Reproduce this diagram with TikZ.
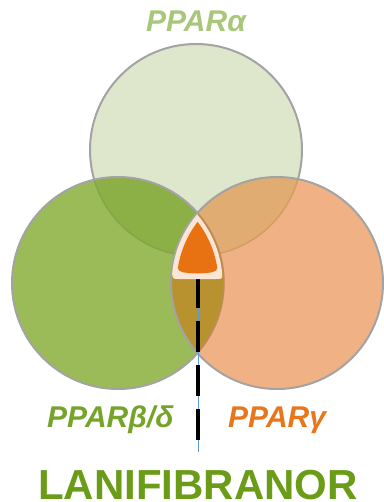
\documentclass[tikz,border=0pt]{standalone}
\usepackage{fontspec}
\setmainfont{Liberation Sans}
\definecolor{topcol}{HTML}{DEE7CB}
\definecolor{leftcol}{HTML}{9BBB59}
\definecolor{rightcol}{HTML}{F0B285}
\definecolor{tlcol}{HTML}{8DB046}
\definecolor{trcol}{HTML}{E0AC72}
\definecolor{lrcol}{HTML}{B8922F}
\definecolor{bordercol}{HTML}{A3A3A3}
\definecolor{faintgreen}{HTML}{84A548}
\definecolor{faintorange}{HTML}{D49C66}
\definecolor{faintbrown}{HTML}{C08A5C}
\definecolor{creamcol}{HTML}{FBE5D6}
\definecolor{orangecol}{HTML}{E87212}
\definecolor{alphacol}{HTML}{A9C77A}
\definecolor{betacol}{HTML}{76A42A}
\definecolor{gammacol}{HTML}{E8761B}
\definecolor{namecol}{HTML}{6A9C17}
\definecolor{bluecol}{HTML}{5B9BD5}
\tikzset{
  ring/.style={draw=bordercol, line width=2pt},
  faint/.style={line width=1.5pt},
  label/.style={font=\bfseries\itshape\fontsize{30}{33}\selectfont, inner sep=0pt, anchor=base west},
}
\begin{document}
\begin{tikzpicture}[x=1pt,y=-1pt]
\useasboundingbox (0,0) rectangle (383,502);
\coordinate (T) at (196,150);
\coordinate (L) at (118,283);
\coordinate (R) at (277,283);
% top circle
\fill[topcol] (T) circle (106);
\draw[ring] (T) circle (106);
% left circle
\fill[leftcol] (L) circle (106);
\begin{scope}
  \clip (T) circle (106);
  \fill[tlcol] (L) circle (106);
\end{scope}
\begin{scope}
  \clip (L) circle (106);
  \draw[faint, draw=faintgreen] (T) circle (106);
\end{scope}
\draw[ring] (L) circle (106);
% right circle
\fill[rightcol] (R) circle (106);
\begin{scope}
  \clip (T) circle (106);
  \fill[trcol] (R) circle (106);
\end{scope}
\begin{scope}
  \clip (L) circle (106);
  \fill[lrcol] (R) circle (106);
\end{scope}
\begin{scope}
  \clip (R) circle (106);
  \draw[faint, draw=faintorange] (T) circle (106);
  \draw[faint, draw=faintbrown] (L) circle (106);
\end{scope}
\draw[ring] (R) circle (106);
% lines
\coordinate (linetop) at (198,277);
\coordinate (lineend) at (198,452);
\coordinate (dashend) at (198,442);
\draw[bluecol, line width=0.8pt] (linetop) -- (lineend);
\draw[black, line width=4pt, dash pattern=on 31pt off 13pt] (linetop) -- (dashend);
% central shape
\fill[creamcol] (197.5,214) arc[start angle=221, end angle=184.9, radius=105]
  .. controls (173,279) .. (179,279) -- (216,279) .. controls (222.2,279) .. (222.2,274)
  arc[start angle=-4.9, end angle=-41, radius=105] -- cycle;
\fill[orangecol] (197.5,222) arc[start angle=217.5, end angle=188.7, radius=100.5]
  .. controls (178,272) and (183,273) .. (197.5,273.5)
  .. controls (212,273) and (217,272) .. (217.3,268)
  arc[start angle=-8.7, end angle=-37.5, radius=100.5] -- cycle;
% texts
\node[label, text=alphacol, anchor=base] (alpha) at (196,32) {PPARα};
\node[label, text=betacol] (beta) at (47,427) {PPARβ/δ};
\node[label, text=gammacol] (gamma) at (228,427) {PPARγ};
\node[font=\bfseries\fontsize{42}{44}\selectfont, text=namecol, inner sep=0pt, anchor=base] (name) at (198,499.5) {LANIFIBRANOR};
\end{tikzpicture}
\end{document}
